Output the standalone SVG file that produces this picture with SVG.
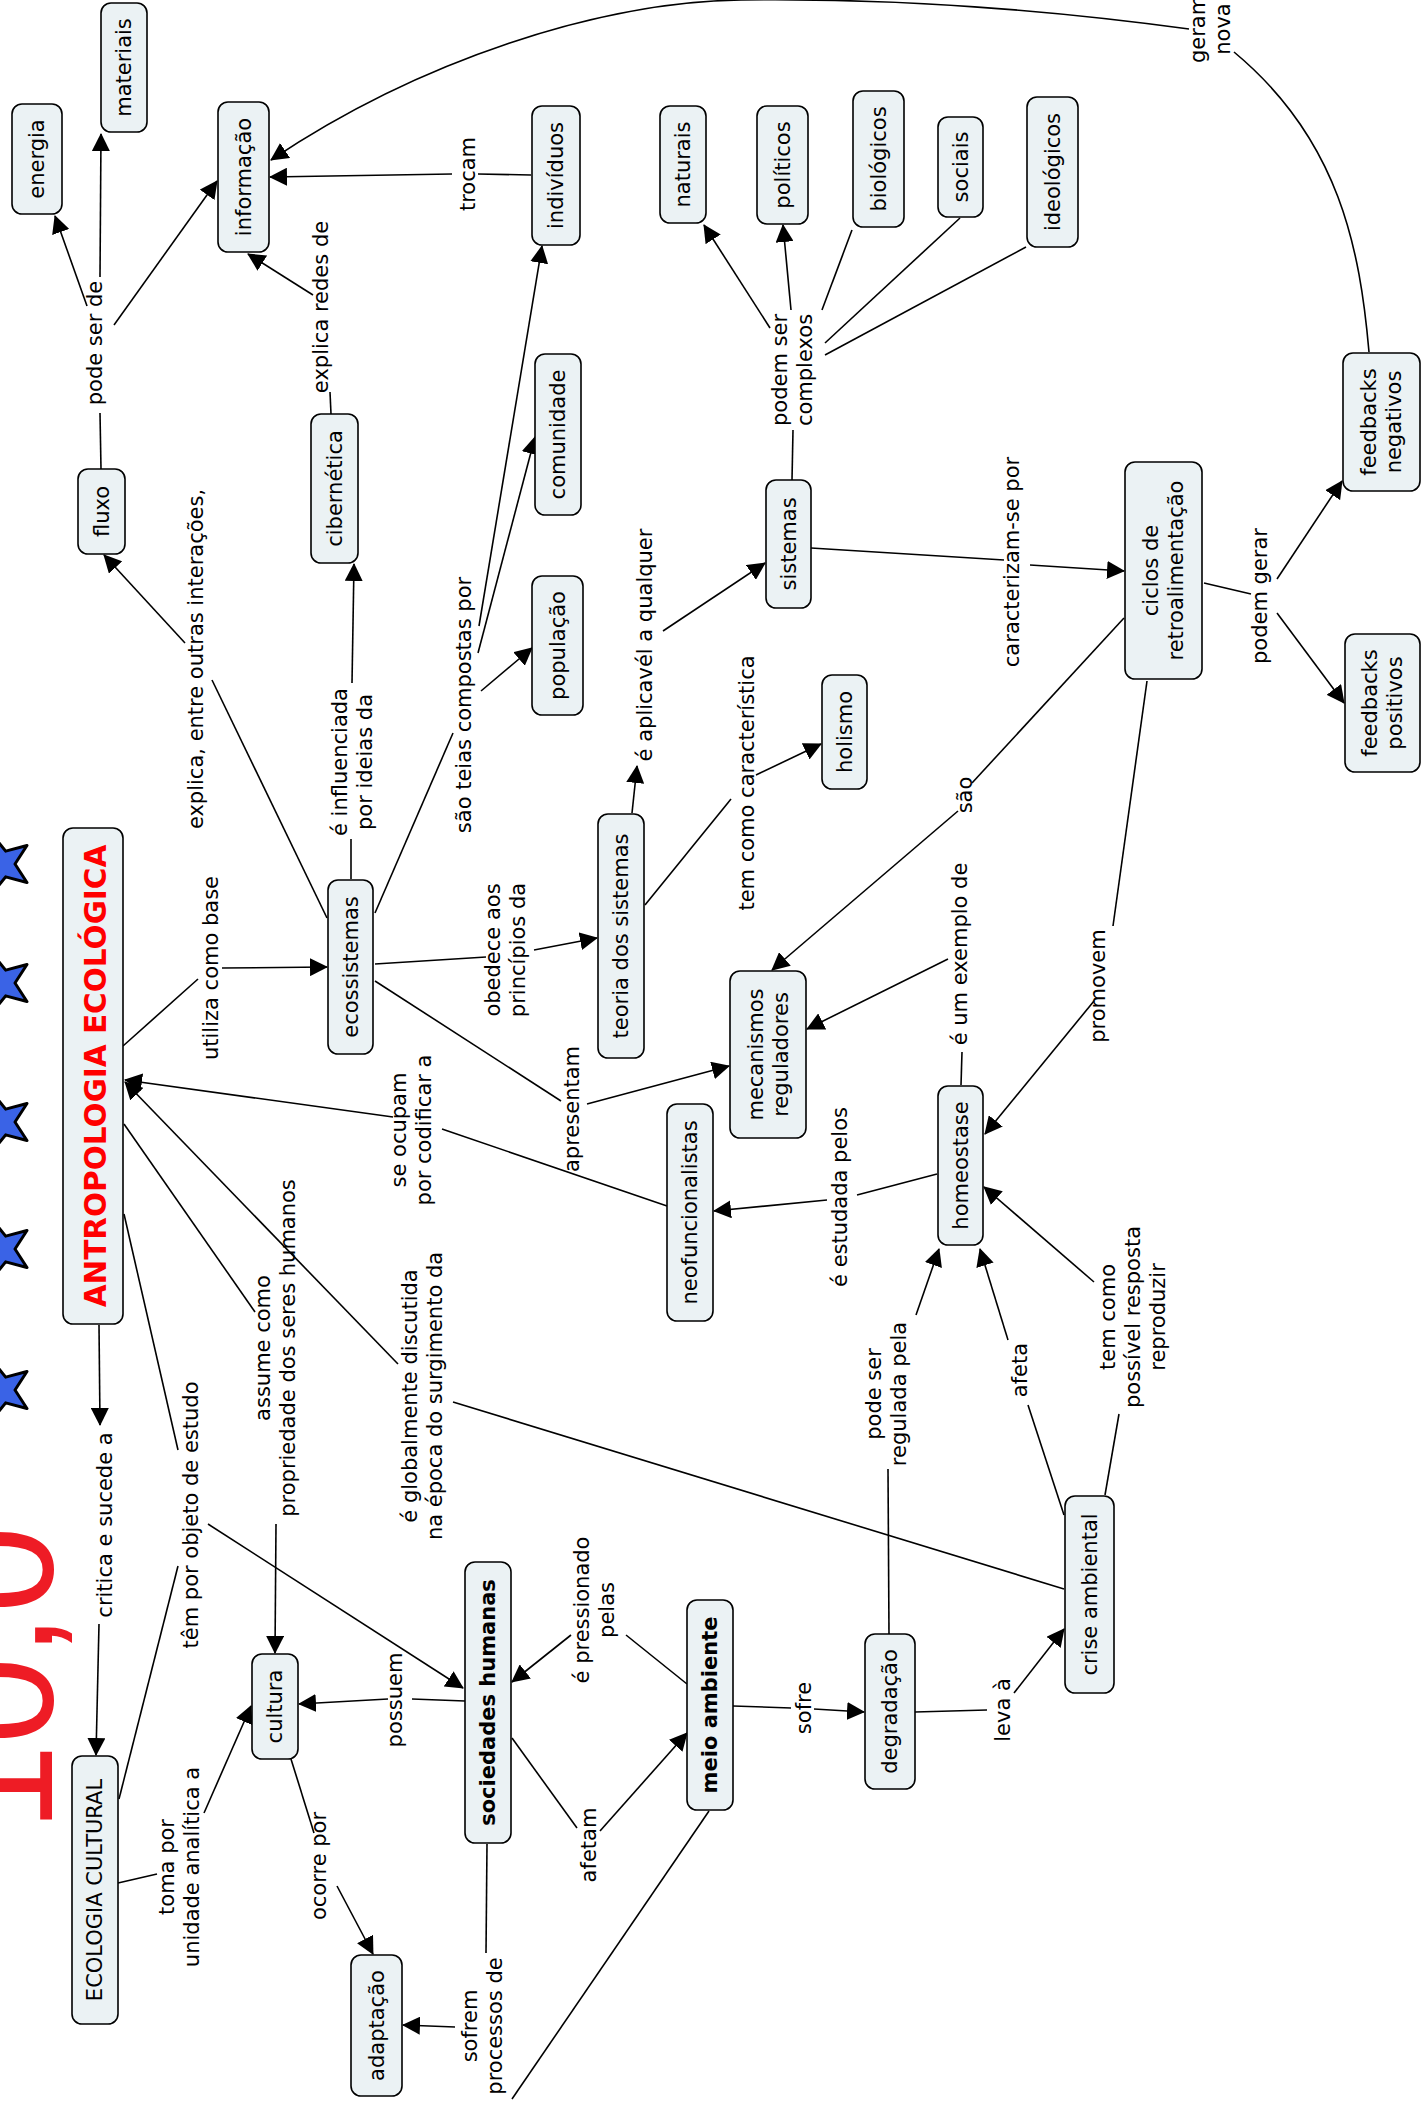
<svg xmlns="http://www.w3.org/2000/svg" xmlns:xlink="http://www.w3.org/1999/xlink" width="1421" height="2102" viewBox="0 0 1421 2102">
<style>
  .n rect { fill: #ebf2f4; stroke: #000; stroke-width: 1.6; }
  text { font-family: "DejaVu Sans", Verdana, sans-serif; font-size: 21px; fill: #000; }
  .b { font-weight: bold; }
  .c line, .c path { stroke: #000; stroke-width: 1.6; fill: none; }
  .a { marker-end: url(#ah); }
  .star { fill: #3a63e6; stroke: #000; stroke-width: 3; stroke-linejoin: round; }
</style>
<defs>
  <marker id="ah" markerUnits="userSpaceOnUse" viewBox="0 0 18 18" markerWidth="18" markerHeight="18" refX="17" refY="9" orient="auto">
    <path d="M0,0 L18,9 L0,18 z" fill="#000"/>
  </marker>
  <polygon id="starshape" points="-31.5,0 -10.92,-7.94 -9.73,-29.96 4.17,-12.84 25.48,-18.52 13.5,0 25.48,18.52 4.17,12.84 -9.73,29.96 -10.92,7.94"/>
</defs>
<rect width="1421" height="2102" fill="#fff"/>

<g id="decoration">
  <text transform="translate(52,1831.6) rotate(-90)" style="font-family:'Liberation Sans',Arial,sans-serif;font-size:157px;fill:#ee1c25">10,0</text>
  <use href="#starshape" class="star" x="1.5" y="864"/>
  <use href="#starshape" class="star" x="1.5" y="983"/>
  <use href="#starshape" class="star" x="1.5" y="1122"/>
  <use href="#starshape" class="star" x="1.5" y="1249"/>
  <use href="#starshape" class="star" x="1.5" y="1390"/>
</g>

<g id="connectors" class="c">
  <line x1="101" y1="469" x2="100" y2="413"/>
  <line class="a" x1="87" y1="306" x2="55" y2="216"/>
  <line class="a" x1="100" y1="277" x2="101" y2="134"/>
  <line class="a" x1="114" y1="325" x2="217" y2="181"/>

  <line x1="331" y1="414" x2="330" y2="392"/>
  <line class="a" x1="313" y1="295" x2="248" y2="254"/>

  <line x1="531" y1="175" x2="478" y2="174"/>
  <line class="a" x1="452" y1="174" x2="270" y2="177"/>

  <path d="M1369,352 C1360,250 1340,140 1234,52"/>
  <path class="a" d="M1189,29 C1050,10 900,-2 741,0 C600,2 420,60 271,160"/>

  <line x1="792" y1="480" x2="793" y2="430"/>
  <line class="a" x1="770" y1="328" x2="704" y2="225"/>
  <line class="a" x1="791" y1="310" x2="783" y2="225"/>
  <line x1="822" y1="310" x2="852" y2="230"/>
  <line x1="825" y1="343" x2="960" y2="218"/>
  <line x1="825" y1="355" x2="1026" y2="247"/>

  <line x1="375" y1="913" x2="453" y2="733"/>
  <line class="a" x1="479" y1="626" x2="542" y2="246"/>
  <line class="a" x1="478" y1="653" x2="535" y2="437"/>
  <line class="a" x1="481" y1="691" x2="532" y2="648"/>

  <line x1="351" y1="879" x2="351" y2="839"/>
  <line class="a" x1="352" y1="683" x2="354" y2="564"/>

  <line x1="327" y1="918" x2="212" y2="680"/>
  <line class="a" x1="185" y1="643" x2="104" y2="555"/>

  <line x1="123" y1="1046" x2="198" y2="979"/>
  <line class="a" x1="222" y1="968" x2="327" y2="967"/>

  <line x1="375" y1="964" x2="486" y2="957"/>
  <line class="a" x1="534" y1="950" x2="597" y2="938"/>

  <line x1="375" y1="981" x2="561" y2="1101"/>
  <line class="a" x1="587" y1="1104" x2="729" y2="1066"/>

  <line class="a" x1="632" y1="813" x2="637" y2="766"/>
  <line class="a" x1="663" y1="631" x2="765" y2="563"/>

  <line x1="645" y1="905" x2="731" y2="799"/>
  <line class="a" x1="756" y1="775" x2="821" y2="744"/>

  <line x1="811" y1="548" x2="1004" y2="560"/>
  <line class="a" x1="1030" y1="565" x2="1124" y2="571"/>

  <line x1="1124" y1="618" x2="972" y2="783"/>
  <line class="a" x1="958" y1="811" x2="772" y2="970"/>

  <line x1="961" y1="1085" x2="962" y2="1052"/>
  <line class="a" x1="948" y1="959" x2="807" y2="1029"/>

  <line x1="1147" y1="681" x2="1113" y2="926"/>
  <line class="a" x1="1094" y1="1001" x2="985" y2="1134"/>

  <line x1="1204" y1="583" x2="1251" y2="594"/>
  <line class="a" x1="1277" y1="579" x2="1342" y2="481"/>
  <line class="a" x1="1277" y1="613" x2="1344" y2="703"/>

  <line x1="937" y1="1174" x2="857" y2="1195"/>
  <line class="a" x1="827" y1="1200" x2="714" y2="1211"/>

  <line x1="667" y1="1206" x2="442" y2="1129"/>
  <line class="a" x1="393" y1="1117" x2="125" y2="1080"/>

  <line x1="1064" y1="1589" x2="453" y2="1402"/>
  <line class="a" x1="398" y1="1364" x2="125" y2="1082"/>

  <line x1="124" y1="1124" x2="255" y2="1312"/>
  <line class="a" x1="276" y1="1524" x2="275" y2="1653"/>

  <line x1="124" y1="1214" x2="178" y2="1450"/>
  <line x1="119" y1="1799" x2="178" y2="1566"/>
  <line class="a" x1="208" y1="1524" x2="463" y2="1688"/>

  <line class="a" x1="99" y1="1325" x2="100" y2="1425"/>
  <line class="a" x1="99" y1="1624" x2="96" y2="1755"/>

  <line x1="118" y1="1883" x2="157" y2="1874"/>
  <line class="a" x1="204" y1="1813" x2="251" y2="1706"/>

  <line x1="465" y1="1701" x2="412" y2="1699"/>
  <line class="a" x1="388" y1="1699" x2="299" y2="1704"/>

  <line x1="291" y1="1759" x2="314" y2="1833"/>
  <line class="a" x1="337" y1="1886" x2="373" y2="1954"/>

  <line x1="487" y1="1844" x2="486" y2="1953"/>
  <line x1="709" y1="1811" x2="512" y2="2099"/>
  <line class="a" x1="455" y1="2027" x2="403" y2="2025"/>

  <line x1="687" y1="1684" x2="626" y2="1635"/>
  <line class="a" x1="571" y1="1635" x2="512" y2="1682"/>

  <line x1="512" y1="1738" x2="577" y2="1828"/>
  <line class="a" x1="600" y1="1831" x2="687" y2="1733"/>

  <line x1="733" y1="1706" x2="791" y2="1708"/>
  <line class="a" x1="814" y1="1709" x2="864" y2="1712"/>

  <line x1="889" y1="1634" x2="888" y2="1469"/>
  <line class="a" x1="916" y1="1315" x2="939" y2="1249"/>

  <line x1="915" y1="1712" x2="987" y2="1710"/>
  <line class="a" x1="1014" y1="1693" x2="1064" y2="1629"/>

  <line x1="1064" y1="1515" x2="1028" y2="1405"/>
  <line class="a" x1="1008" y1="1340" x2="980" y2="1249"/>

  <line x1="1105" y1="1495" x2="1119" y2="1414"/>
  <line class="a" x1="1094" y1="1282" x2="984" y2="1187"/>
</g>

<g id="labels" text-anchor="middle">
  <text transform="translate(102,343) rotate(-90)">pode ser de</text>
  <text transform="translate(328,307) rotate(-90)">explica redes de</text>
  <text transform="translate(475,174) rotate(-90)">trocam</text>
  <text transform="translate(1205,29) rotate(-90)"><tspan x="0" y="0">geram</tspan><tspan x="0" y="25">nova</tspan></text>
  <text transform="translate(787,370) rotate(-90)"><tspan x="0" y="0">podem ser</tspan><tspan x="0" y="25">complexos</tspan></text>
  <text transform="translate(471,705) rotate(-90)">são teias compostas por</text>
  <text transform="translate(347,762) rotate(-90)"><tspan x="0" y="0">é influenciada</tspan><tspan x="0" y="25">por ideias da</tspan></text>
  <text transform="translate(203,659) rotate(-90)">explica, entre outras interações,</text>
  <text transform="translate(218,968) rotate(-90)">utiliza como base</text>
  <text transform="translate(500,950) rotate(-90)"><tspan x="0" y="0">obedece aos</tspan><tspan x="0" y="25">princípios da</tspan></text>
  <text transform="translate(579,1109) rotate(-90)">apresentam</text>
  <text transform="translate(652,645) rotate(-90)">é aplicavél a qualquer</text>
  <text transform="translate(754,783) rotate(-90)">tem como característica</text>
  <text transform="translate(1019,562) rotate(-90)">caracterizam-se por</text>
  <text transform="translate(972,795) rotate(-90)">são</text>
  <text transform="translate(967,954) rotate(-90)">é um exemplo de</text>
  <text transform="translate(1105,986) rotate(-90)">promovem</text>
  <text transform="translate(1267,596) rotate(-90)">podem gerar</text>
  <text transform="translate(847,1197) rotate(-90)">é estudada pelos</text>
  <text transform="translate(406,1130) rotate(-90)"><tspan x="0" y="0">se ocupam</tspan><tspan x="0" y="25">por codificar a</tspan></text>
  <text transform="translate(417,1396) rotate(-90)"><tspan x="0" y="0">é globalmente discutida</tspan><tspan x="0" y="25">na época do surgimento da</tspan></text>
  <text transform="translate(270,1348) rotate(-90)"><tspan x="0" y="0">assume como</tspan><tspan x="0" y="25">propriedade dos seres humanos</tspan></text>
  <text transform="translate(198,1515) rotate(-90)">têm por objeto de estudo</text>
  <text transform="translate(112,1525) rotate(-90)">critica e sucede a</text>
  <text transform="translate(174,1867) rotate(-90)"><tspan x="0" y="0">toma por</tspan><tspan x="0" y="25">unidade analítica a</tspan></text>
  <text transform="translate(402,1700) rotate(-90)">possuem</text>
  <text transform="translate(326,1866) rotate(-90)">ocorre por</text>
  <text transform="translate(477,2026) rotate(-90)"><tspan x="0" y="0">sofrem</tspan><tspan x="0" y="25">processos de</tspan></text>
  <text transform="translate(589,1610) rotate(-90)"><tspan x="0" y="0">é pressionado</tspan><tspan x="0" y="25">pelas</tspan></text>
  <text transform="translate(596,1845) rotate(-90)">afetam</text>
  <text transform="translate(811,1708) rotate(-90)">sofre</text>
  <text transform="translate(881,1394) rotate(-90)"><tspan x="0" y="0">pode ser</tspan><tspan x="0" y="25">regulada pela</tspan></text>
  <text transform="translate(1010,1710) rotate(-90)">leva à</text>
  <text transform="translate(1027,1370) rotate(-90)">afeta</text>
  <text transform="translate(1115,1317) rotate(-90)"><tspan x="0" y="0">tem como</tspan><tspan x="0" y="25">possível resposta</tspan><tspan x="0" y="50">reproduzir</tspan></text>
</g>

<g id="nodes" text-anchor="middle">
  <g id="n-energia" class="n"><rect x="12" y="104" width="50" height="110" rx="10"/><text transform="translate(44,159) rotate(-90)">energia</text></g>
  <g id="n-materiais" class="n"><rect x="101" y="3" width="46" height="129" rx="10"/><text transform="translate(131,67.5) rotate(-90)">materiais</text></g>
  <g id="n-informacao" class="n"><rect x="218" y="102" width="51" height="150" rx="10"/><text transform="translate(250.5,177) rotate(-90)">informação</text></g>
  <g id="n-fluxo" class="n"><rect x="78" y="469" width="47" height="85" rx="10"/><text transform="translate(108.5,511.5) rotate(-90)">fluxo</text></g>
  <g id="n-cibernetica" class="n"><rect x="311" y="414" width="47" height="149" rx="10"/><text transform="translate(341.5,488.5) rotate(-90)">cibernética</text></g>
  <g id="n-individuos" class="n"><rect x="532" y="106" width="48" height="139" rx="10"/><text transform="translate(563,175.5) rotate(-90)">indivíduos</text></g>
  <g id="n-comunidade" class="n"><rect x="535" y="354" width="46" height="161" rx="10"/><text transform="translate(565,434.5) rotate(-90)">comunidade</text></g>
  <g id="n-populacao" class="n"><rect x="532" y="576" width="51" height="139" rx="10"/><text transform="translate(564.5,645.5) rotate(-90)">população</text></g>
  <g id="n-naturais" class="n"><rect x="660" y="106" width="46" height="117" rx="10"/><text transform="translate(690,164.5) rotate(-90)">naturais</text></g>
  <g id="n-politicos" class="n"><rect x="757" y="106" width="51" height="118" rx="10"/><text transform="translate(789.5,165) rotate(-90)">políticos</text></g>
  <g id="n-biologicos" class="n"><rect x="853" y="91" width="51" height="136" rx="10"/><text transform="translate(885.5,159) rotate(-90)">biológicos</text></g>
  <g id="n-sociais" class="n"><rect x="938" y="117" width="45" height="100" rx="10"/><text transform="translate(967.5,167) rotate(-90)">sociais</text></g>
  <g id="n-ideologicos" class="n"><rect x="1027" y="97" width="51" height="150" rx="10"/><text transform="translate(1059.5,172) rotate(-90)">ideológicos</text></g>
  <g id="n-sistemas" class="n"><rect x="766" y="480" width="45" height="128" rx="10"/><text transform="translate(795.5,544) rotate(-90)">sistemas</text></g>
  <g id="n-feedbacks-negativos" class="n"><rect x="1343" y="353" width="77" height="138" rx="10"/><text transform="translate(1376,422) rotate(-90)"><tspan x="0" y="0">feedbacks</tspan><tspan x="0" y="25">negativos</tspan></text></g>
  <g id="n-feedbacks-positivos" class="n"><rect x="1345" y="634" width="75" height="138" rx="10"/><text transform="translate(1377,703) rotate(-90)"><tspan x="0" y="0">feedbacks</tspan><tspan x="0" y="25">positivos</tspan></text></g>
  <g id="n-ciclos" class="n"><rect x="1125" y="462" width="77" height="217" rx="10"/><text transform="translate(1158,570.5) rotate(-90)"><tspan x="0" y="0">ciclos de</tspan><tspan x="0" y="25">retroalimentação</tspan></text></g>
  <g id="n-holismo" class="n"><rect x="822" y="675" width="45" height="114" rx="10"/><text transform="translate(851.5,732) rotate(-90)">holismo</text></g>
  <g id="n-teoria" class="n"><rect x="598" y="814" width="46" height="244" rx="10"/><text transform="translate(628,936) rotate(-90)">teoria dos sistemas</text></g>
  <g id="n-ecossistemas" class="n"><rect x="328" y="880" width="45" height="174" rx="10"/><text transform="translate(357.5,967) rotate(-90)">ecossistemas</text></g>
  <g id="n-antropologia" class="n"><rect x="63" y="828" width="60" height="496" rx="10"/><text class="b" transform="translate(106,1076) rotate(-90)" style="font-size:29.5px;fill:#ff0000">ANTROPOLOGIA ECOLÓGICA</text></g>
  <g id="n-mecanismos" class="n"><rect x="730" y="971" width="76" height="167" rx="10"/><text transform="translate(762.5,1054.5) rotate(-90)"><tspan x="0" y="0">mecanismos</tspan><tspan x="0" y="25">reguladores</tspan></text></g>
  <g id="n-homeostase" class="n"><rect x="938" y="1086" width="45" height="159" rx="10"/><text transform="translate(967.5,1165.5) rotate(-90)">homeostase</text></g>
  <g id="n-neofuncionalistas" class="n"><rect x="667" y="1104" width="46" height="217" rx="10"/><text transform="translate(697,1212.5) rotate(-90)">neofuncionalistas</text></g>
  <g id="n-crise" class="n"><rect x="1065" y="1496" width="49" height="197" rx="10"/><text transform="translate(1096.5,1594.5) rotate(-90)">crise ambiental</text></g>
  <g id="n-ecologia-cultural" class="n"><rect x="72" y="1756" width="46" height="268" rx="10"/><text transform="translate(102,1890) rotate(-90)">ECOLOGIA CULTURAL</text></g>
  <g id="n-cultura" class="n"><rect x="252" y="1654" width="46" height="105" rx="10"/><text transform="translate(282,1706.5) rotate(-90)">cultura</text></g>
  <g id="n-adaptacao" class="n"><rect x="351" y="1955" width="51" height="141" rx="10"/><text transform="translate(383.5,2025.5) rotate(-90)">adaptação</text></g>
  <g id="n-sociedades" class="n"><rect x="465" y="1562" width="46" height="281" rx="10"/><text class="b" transform="translate(495,1702.5) rotate(-90)">sociedades humanas</text></g>
  <g id="n-meio-ambiente" class="n"><rect x="687" y="1600" width="46" height="210" rx="10"/><text class="b" transform="translate(717,1705) rotate(-90)">meio ambiente</text></g>
  <g id="n-degradacao" class="n"><rect x="865" y="1634" width="50" height="155" rx="10"/><text transform="translate(897,1711.5) rotate(-90)">degradação</text></g>
</g>
</svg>
